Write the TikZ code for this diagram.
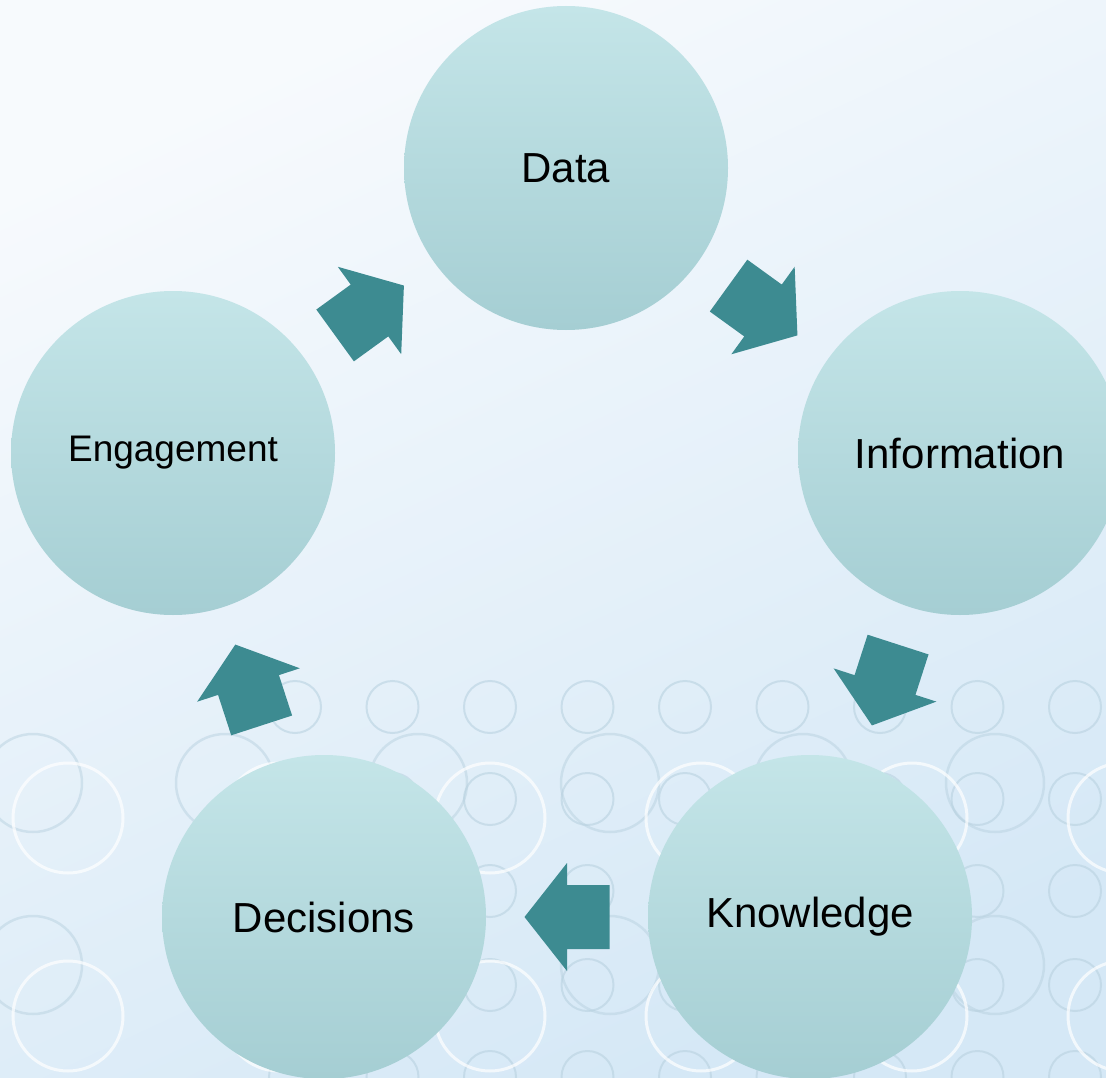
\documentclass[tikz,border=0pt]{standalone}
\usepackage{fontspec}
\setmainfont{Liberation Sans}
\usetikzlibrary{calc}
\definecolor{bgA}{HTML}{F7FAFD}
\definecolor{bgB}{HTML}{D5E8F6}
\definecolor{circtop}{HTML}{C4E5E8}
\definecolor{circbot}{HTML}{A5CED3}
\definecolor{arrowcol}{HTML}{3D8B91}
\definecolor{ringcol}{HTML}{B9D2E0}
\tikzset{
  stage/.style={circle, minimum size=324pt, inner sep=0pt, top color=circtop,
    bottom color=circbot, draw=none, text=black, font=\fontsize{42}{49}\selectfont},
  blockfill/.style={fill=arrowcol, draw=none},
  smallring/.style={draw=ringcol, line width=2pt, draw opacity=0.6},
  bigring/.style={draw=ringcol, line width=2.5pt, draw opacity=0.5},
  whitering/.style={draw=white, line width=3pt, draw opacity=0.7},
}
% #1 from node, #2 to node, #3 name prefix
\newcommand\blockarrow[3]{%
  \coordinate (#3m) at ($(#1.center)!0.5!(#2.center)$);
  \coordinate (#3t) at ($(#3m)!42.5pt!(#1.center)$);
  \coordinate (#3p) at ($(#3m)!42.5pt!(#2.center)$);
  \fill[blockfill] ($(#3t)!32pt!90:(#3p)$) -- ($(#3m)!32pt!90:(#3p)$)
    -- ($(#3m)!54pt!90:(#3p)$) -- (#3p) -- ($(#3m)!54pt!-90:(#3p)$)
    -- ($(#3m)!32pt!-90:(#3p)$) -- ($(#3t)!32pt!-90:(#3p)$) -- cycle;%
}
\begin{document}
\begin{tikzpicture}[x=1pt,y=-1pt]
\useasboundingbox (0,0) rectangle (1106,1078);
\shade[top color=bgA, bottom color=bgB, shading angle=25] (0,0) rectangle (1106,1078);
% decorative rings
\foreach \x in {295,392.5,490,587.5,685,782.5,880,977.5,1075}
  \foreach \y in {707,799,891,985,1077}
    \draw[smallring] (\x,\y) circle (26);
\foreach \x in {33,225,418,610,803,995}
  \foreach \y in {783,965}
    \draw[bigring] (\x,\y) circle (49);
\foreach \x in {68,279,490,701,912,1123}
  \foreach \y in {818,1016}
    \draw[whitering] (\x,\y) circle (55);
% stages
\node[stage] (data) at (566,168) {Data};
\node[stage] (info) at (960,453) {Information};
\node[stage] (know) at (810,917) {Knowledge};
\node[stage] (dec) at (324,917) {Decisions};
\node[stage, font=\fontsize{37}{44}\selectfont] (eng) at (173,453) {Engagement};
% block arrows
\blockarrow{eng}{data}{a1}
\blockarrow{data}{info}{a2}
\blockarrow{info}{know}{a3}
\blockarrow{know}{dec}{a4}
\blockarrow{dec}{eng}{a5}
\end{tikzpicture}
\end{document}
